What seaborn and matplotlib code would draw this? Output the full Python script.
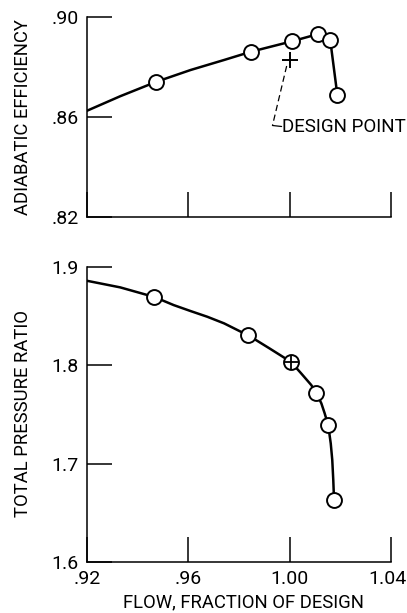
import matplotlib
matplotlib.use("Agg")
import matplotlib.pyplot as plt
import matplotlib.transforms as mtransforms
import seaborn as sns
import pandas as pd

# --- data ---
# efficiency curve (line) and test points (circles)
eff_curve_flow = [0.920, 0.9331, 0.9474, 0.9609, 0.9741, 0.9847, 1.001, 1.0113, 1.016, 1.0188]
eff_curve_val = [0.8625, 0.8683, 0.8741, 0.8788, 0.8828, 0.8861, 0.8903, 0.8932, 0.8908, 0.8688]
eff_pts_flow = [0.9474, 0.9847, 1.001, 1.0113, 1.016, 1.0188]
eff_pts_val = [0.8741, 0.8861, 0.8903, 0.8932, 0.8908, 0.8688]
eff_design = (1.000, 0.8828)

# pressure ratio curve and test points
pr_curve_flow = [0.920, 0.9331, 0.9466, 0.9542, 0.9609, 0.9675, 0.9741, 0.9807, 0.9835,
                 0.9918, 1.0005, 1.0045, 1.0085, 1.0105, 1.0125, 1.0138, 1.0152,
                 1.0162, 1.0168, 1.0172, 1.0175]
pr_curve_val = [1.886, 1.8793, 1.8695, 1.8613, 1.8552, 1.8494, 1.8427, 1.8342, 1.8308,
                1.8176, 1.8035, 1.7919, 1.780, 1.772, 1.7613, 1.7512, 1.739,
                1.7206, 1.7037, 1.6833, 1.663]
pr_pts_flow = [0.9466, 0.9835, 1.0105, 1.0152, 1.0175]
pr_pts_val = [1.8695, 1.8308, 1.772, 1.739, 1.663]
pr_design = (1.0005, 1.8035)

x_ticks = [0.92, 0.96, 1.00, 1.04]
x_ticklabels = [".92", ".96", "1.00", "1.04"]
eff_ticks = [0.82, 0.86, 0.90]
eff_ticklabels = [".82", ".86", ".90"]
pr_ticks = [1.6, 1.7, 1.8, 1.9]
pr_ticklabels = ["1.6", "1.7", "1.8", "1.9"]

# leader line for the design point note
leader_dash = ([0.9988, 0.9932], [0.8804, 0.8566])
leader_foot = ([0.9932, 0.9968], [0.8566, 0.8562])
note_pos = (0.9970, 0.8560)

sns.set_theme(style="white")
plt.rcParams["font.family"] = ["Roboto", "DejaVu Sans"]

fig = plt.figure(figsize=(4.07, 6.13), dpi=100)
ax1 = fig.add_axes([0.2138, 0.646, 0.747, 0.3263])
ax2 = fig.add_axes([0.2138, 0.0832, 0.747, 0.4812])

LW = 1.8
MS = 115
FS_LAB = 13.3
FS_TICK = 14

def style_axis(ax, yticks, ylabels, show_x):
    for s in ["top", "right"]:
        ax.spines[s].set_visible(False)
    for s in ["left", "bottom"]:
        ax.spines[s].set_color("black")
        ax.spines[s].set_linewidth(1.1)
    ax.set_xlim(0.92, 1.04)
    ax.set_xticks(x_ticks)
    ax.set_yticks(yticks)
    ax.set_yticklabels(ylabels)
    if show_x:
        ax.set_xticklabels(x_ticklabels)
    else:
        ax.set_xticklabels([])
    ax.tick_params(direction="in", length=18, width=1.1, colors="black",
                   labelsize=FS_TICK, pad=6, left=True, bottom=True)

# top: adiabatic efficiency
eff_line = pd.DataFrame({"flow": eff_curve_flow, "val": eff_curve_val})
eff_pts = pd.DataFrame({"flow": eff_pts_flow, "val": eff_pts_val})
sns.lineplot(data=eff_line, x="flow", y="val", ax=ax1, sort=False,
             color="black", lw=LW, zorder=2)
sns.scatterplot(data=eff_pts, x="flow", y="val", ax=ax1, s=MS,
                facecolor="white", edgecolor="black", linewidth=1.4, zorder=3)
ax1.plot(*eff_design, marker="+", ms=11, mew=1.4, color="black", zorder=3)
ax1.plot(*leader_dash, color="black", lw=0.9, ls=(0, (5, 3)), zorder=2)
ax1.plot(*leader_foot, color="black", lw=0.9, zorder=2)
ax1.text(*note_pos, "DESIGN POINT", fontsize=13.5, va="center", ha="left",
         color="black", clip_on=False)
ax1.set_ylim(0.82, 0.90)
style_axis(ax1, eff_ticks, eff_ticklabels, False)
ax1.set_xlabel("")
ax1.set_ylabel("ADIABATIC EFFICIENCY", fontsize=FS_LAB, color="black")
ax1.yaxis.set_label_coords(-0.21, 0.5)
ax1.yaxis.label.set_va("center")

# bottom: total pressure ratio
pr_line = pd.DataFrame({"flow": pr_curve_flow, "val": pr_curve_val})
pr_pts = pd.DataFrame({"flow": pr_pts_flow, "val": pr_pts_val})
sns.lineplot(data=pr_line, x="flow", y="val", ax=ax2, sort=False,
             color="black", lw=LW, zorder=2)
sns.scatterplot(data=pr_pts, x="flow", y="val", ax=ax2, s=MS,
                facecolor="white", edgecolor="black", linewidth=1.4, zorder=3)
ax2.scatter(*pr_design, s=MS, facecolor="white", edgecolor="black",
            linewidth=1.4, zorder=3)
ax2.plot(*pr_design, marker="+", ms=10.5, mew=1.3, color="black", zorder=4)
ax2.set_ylim(1.6, 1.9)
style_axis(ax2, pr_ticks, pr_ticklabels, True)
ax2.set_xlabel("FLOW, FRACTION OF DESIGN", fontsize=FS_LAB, color="black")
ax2.xaxis.set_label_coords(0.513, -0.136)
ax2.xaxis.label.set_va("center")
ax2.set_ylabel("TOTAL PRESSURE RATIO", fontsize=FS_LAB, color="black")
ax2.yaxis.set_label_coords(-0.21, 0.505)
ax2.yaxis.label.set_va("center")

# keep the last x tick label inside the canvas
last = ax2.get_xticklabels()[-1]
last.set_transform(last.get_transform() +
                   mtransforms.ScaledTranslation(-4 / 100, 0, fig.dpi_scale_trans))

fig.savefig("out.png", dpi=100)
